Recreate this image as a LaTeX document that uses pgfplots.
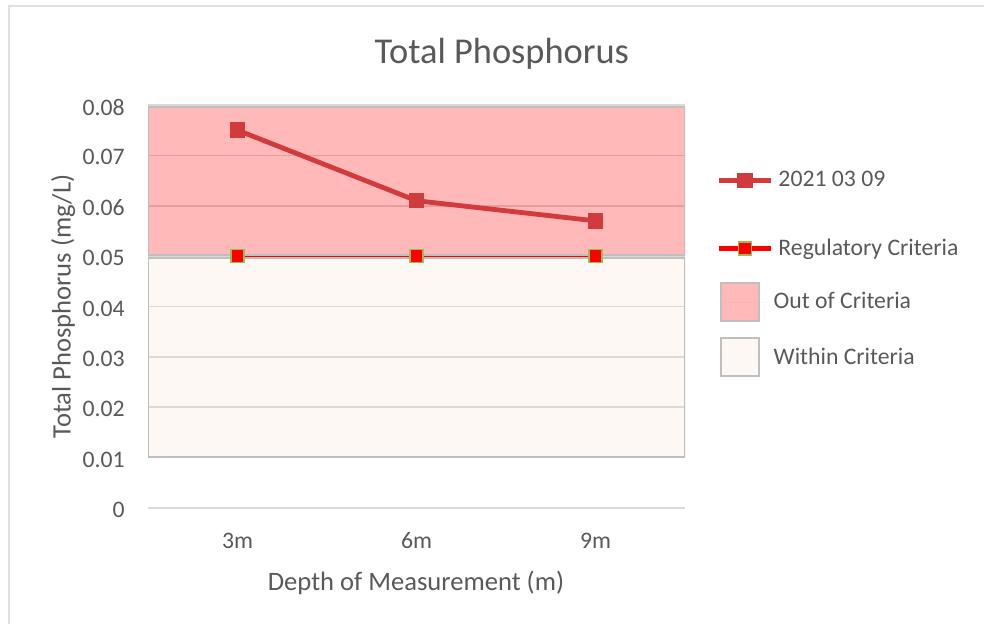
\documentclass[border=0pt]{standalone}
\usepackage{fontspec}
\setmainfont{Carlito}
\usepackage{pgfplots}
\pgfplotsset{compat=1.18}
\definecolor{txt}{HTML}{595959}
\definecolor{gridc}{HTML}{D9D9D9}
\definecolor{ser}{HTML}{D13B3B}
\definecolor{reg}{HTML}{FF0000}
\definecolor{regedge}{HTML}{9BBB59}
\definecolor{boxedge}{HTML}{BFBFBF}
\definecolor{outc}{RGB}{255,22,22}
\definecolor{withinc}{RGB}{245,220,200}
\pgfplotsset{
  boxlegend/.style={legend image code/.code={\path (0pt,0pt) -- (26pt,0pt); \draw[##1,draw=boxedge,draw opacity=1,line width=1pt] (2pt,-9.5pt) rectangle (21pt,9.5pt);}},
  linelegend/.style={legend image code/.code={\draw[mark repeat=2,mark phase=2,##1] plot coordinates {(0pt,0pt)(13pt,0pt)(26pt,0pt)};}},
  common/.style={
    at={(74pt,58pt)}, anchor=south west,
    width=268.5pt, height=201.5pt, scale only axis,
    xmin=0, xmax=3, ymin=0, ymax=0.08,
    legend cell align=left,
  },
}
\begin{document}
\begin{tikzpicture}
\useasboundingbox (0pt,0pt) rectangle (492pt,312pt);
\draw[color=black!12, line width=1.2pt] (4.5pt,0pt) -- (4.5pt,309pt) -- (492pt,309pt);
% background axis: criteria bands, grid, labels
\begin{axis}[
  common,
  scaled y ticks=false,
  xtick={0.5,1.5,2.5}, xticklabels={3m,6m,9m},
  ytick={0,0.01,0.02,0.03,0.04,0.05,0.06,0.07,0.08},
  yticklabels={0,0.01,0.02,0.03,0.04,0.05,0.06,0.07,0.08},
  ymajorgrids, grid style={color=gridc, line width=0.8pt},
  axis line style={draw=none}, major tick length=0pt,
  ticklabel style={font=\fontsize{11.85}{14}\selectfont, text=txt, inner sep=0pt},
  yticklabel style={anchor=east, xshift=-11.5pt, yshift=-1pt},
  xticklabel style={anchor=base, yshift=-20.5pt},
  title={Total Phosphorus},
  title style={at={(axis description cs:0.659,1.072)}, anchor=base, font=\fontsize{18.2}{21}\selectfont, text=txt, inner sep=0pt},
  xlabel={Depth of Measurement (m)},
  xlabel style={at={(axis description cs:0.499,-0.2035)}, anchor=base, font=\fontsize{13.3}{16}\selectfont, text=txt, inner sep=0pt},
  ylabel={Total Phosphorus (mg/L)},
  ylabel style={at={(axis description cs:-0.158,0.5)}, anchor=center, font=\fontsize{13.3}{16}\selectfont, text=txt, inner sep=0pt},
  legend style={at={(axis description cs:1.059,0.56)}, anchor=north west, draw=none, fill=none,
    inner sep=0pt, outer sep=0pt, row sep=7.5pt, column sep=0.5pt,
    font=\fontsize{11.85}{14}\selectfont, text=txt},
]
\addplot[fill=outc, fill opacity=0.3, draw=none, boxlegend]
  coordinates {(0,0.0503) (3,0.0503) (3,0.0797) (0,0.0797) (0,0.0503)};
\addlegendentry{Out of Criteria}
\addplot[fill=withinc, fill opacity=0.2, draw=none, boxlegend]
  coordinates {(0,0.0101) (3,0.0101) (3,0.0497) (0,0.0497) (0,0.0101)};
\addlegendentry{Within Criteria}
\end{axis}
% foreground axis: series
\begin{axis}[
  common, hide axis,
  linelegend,
  reverse legend,
  legend style={at={(axis description cs:1.059,0.845)}, anchor=north west, draw=none, fill=none,
    inner sep=0pt, outer sep=0pt, row sep=20.5pt, column sep=0.5pt,
    font=\fontsize{11.85}{14}\selectfont, text=txt},
]
\addplot[color=reg, line width=2.2pt, mark=square*, mark size=3.2pt,
  mark options={fill=reg, draw=regedge, line width=0.7pt}]
  coordinates {(0.5,0.05) (1.5,0.05) (2.5,0.05)};
\addlegendentry{Regulatory Criteria}
\addplot[color=ser, line width=2.4pt, line join=round, mark=square*, mark size=3.6pt,
  mark options={fill=ser, draw=ser, line width=0pt}]
  coordinates {(0.5,0.075) (1.5,0.061) (2.5,0.057)};
\addlegendentry{2021 03 09}
\addplot[forget plot, draw=boxedge, line width=1pt]
  coordinates {(0,0.0101) (3,0.0101) (3,0.0497) (0,0.0497) (0,0.0101)};
\addplot[forget plot, draw=boxedge, line width=1pt]
  coordinates {(0,0.0503) (3,0.0503) (3,0.0797) (0,0.0797) (0,0.0503)};
\end{axis}
\end{tikzpicture}
\end{document}
